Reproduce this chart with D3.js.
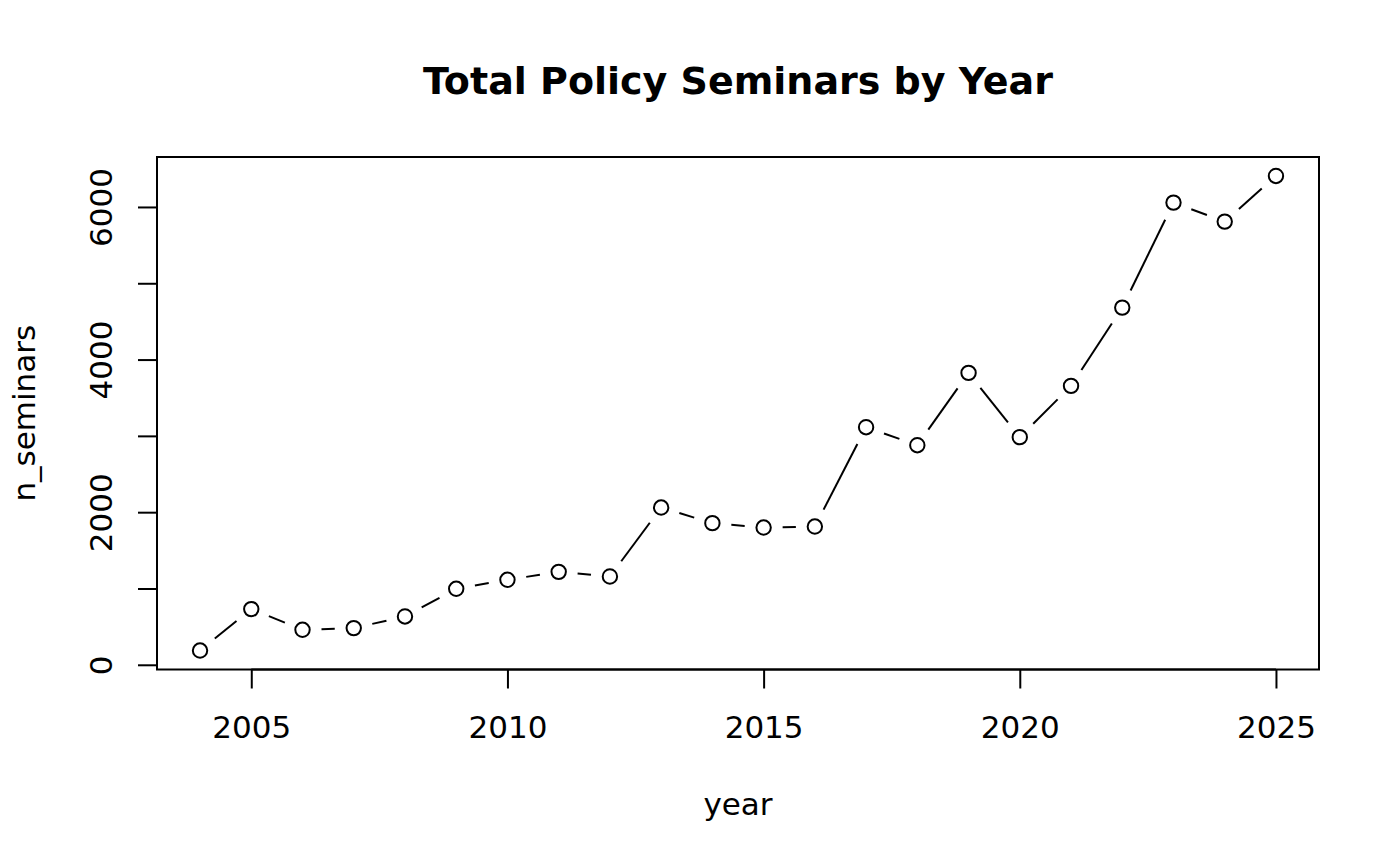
<!DOCTYPE html>
<html>
<head>
<meta charset="utf-8">
<script src="https://cdn.jsdelivr.net/npm/d3@7"></script>
<style>
  html, body { margin: 0; padding: 0; background: #fff; }
  svg { display: block; }
  text { font-family: "DejaVu Sans", sans-serif; fill: #000; }
</style>
</head>
<body>
<script>
const years = [2004, 2005, 2006, 2007, 2008, 2009, 2010, 2011, 2012, 2013, 2014,
               2015, 2016, 2017, 2018, 2019, 2020, 2021, 2022, 2023, 2024, 2025];
const nSeminars = [187, 730, 459, 481, 633, 996, 1114, 1218, 1157, 2061, 1856,
                   1799, 1812, 3114, 2878, 3825, 2983, 3655, 4681, 6057, 5808, 6406];
const xTicks = [2005, 2010, 2015, 2020, 2025];
const yTicks = [0, 1000, 2000, 3000, 4000, 5000, 6000];
const yTickLabels = ["0", "", "2000", "", "4000", "", "6000"];
const titleText = "Total Policy Seminars by Year";
const xLabel = "year";
const yLabel = "n_seminars";

const W = 1400, H = 866;
const box = { left: 157, right: 1319, top: 157, bottom: 669.5 };
const lw = 2;
const fs = 31;

const svg = d3.select("body").append("svg").attr("width", W).attr("height", H);

function padExtent(arr) {
  const [a, b] = d3.extent(arr);
  const p = (b - a) * 0.04;
  return [a - p, b + p];
}

const x = d3.scaleLinear().domain(padExtent(years)).range([box.left, box.right]);
const y = d3.scaleLinear().domain(padExtent(nSeminars)).range([box.bottom, box.top]);

// plot box
svg.append("rect")
  .attr("x", box.left).attr("y", box.top)
  .attr("width", box.right - box.left).attr("height", box.bottom - box.top)
  .attr("fill", "none").attr("stroke", "#000").attr("stroke-width", lw);

// x axis
const xAxis = d3.axisBottom(x).tickValues(xTicks).tickFormat(d3.format("d"))
  .tickSize(19).tickPadding(10);
const gx = svg.append("g").attr("transform", `translate(0,${box.bottom})`).call(xAxis);
gx.select(".domain").attr("d", `M${x(xTicks[0])},0H${x(xTicks[xTicks.length - 1])}`)
  .attr("stroke-width", lw);
gx.selectAll(".tick line").attr("stroke-width", lw);
gx.selectAll(".tick text").attr("font-size", fs).attr("font-family", "DejaVu Sans")
  .attr("dy", null).attr("y", 738 - box.bottom);

// y axis
const yAxis = d3.axisLeft(y).tickValues(yTicks)
  .tickFormat((d, i) => yTickLabels[i]).tickSize(19);
const gy = svg.append("g").attr("transform", `translate(${box.left},0)`).call(yAxis);
gy.select(".domain").attr("d", `M0,${y(yTicks[0])}V${y(yTicks[yTicks.length - 1])}`)
  .attr("stroke-width", lw);
gy.selectAll(".tick line").attr("stroke-width", lw);
gy.selectAll(".tick text")
  .attr("font-size", fs).attr("font-family", "DejaVu Sans")
  .attr("x", null).attr("dy", null)
  .attr("text-anchor", "middle")
  .attr("transform", `translate(${111.5 - box.left},0) rotate(-90)`);

// connecting segments with gaps (type = "b")
const gap = 19;
const pts = years.map((d, i) => [x(d), y(nSeminars[i])]);
const segs = [];
for (let i = 0; i < pts.length - 1; i++) {
  const [x0, y0] = pts[i], [x1, y1] = pts[i + 1];
  const dx = x1 - x0, dy = y1 - y0, L = Math.hypot(dx, dy);
  if (L > 2 * gap) {
    const ux = dx / L, uy = dy / L;
    segs.push([x0 + ux * gap, y0 + uy * gap, x1 - ux * gap, y1 - uy * gap]);
  }
}
svg.append("g").selectAll("line").data(segs).join("line")
  .attr("x1", d => d[0]).attr("y1", d => d[1])
  .attr("x2", d => d[2]).attr("y2", d => d[3])
  .attr("stroke", "#000").attr("stroke-width", lw);

// points
svg.append("g").selectAll("circle").data(years).join("circle")
  .attr("cx", d => x(d)).attr("cy", (d, i) => y(nSeminars[i]))
  .attr("r", 7.2).attr("fill", "#fff").attr("stroke", "#000").attr("stroke-width", lw);

// title
svg.append("text").attr("x", (box.left + box.right) / 2).attr("y", 94)
  .attr("text-anchor", "middle").attr("font-size", 38).attr("font-weight", "bold")
  .text(titleText);

// axis labels
svg.append("text").attr("x", (box.left + box.right) / 2).attr("y", 815)
  .attr("text-anchor", "middle").attr("font-size", fs).text(xLabel);

svg.append("text")
  .attr("transform", `translate(35,${(box.top + box.bottom) / 2}) rotate(-90)`)
  .attr("text-anchor", "middle").attr("font-size", fs).text(yLabel);
</script>
</body>
</html>
